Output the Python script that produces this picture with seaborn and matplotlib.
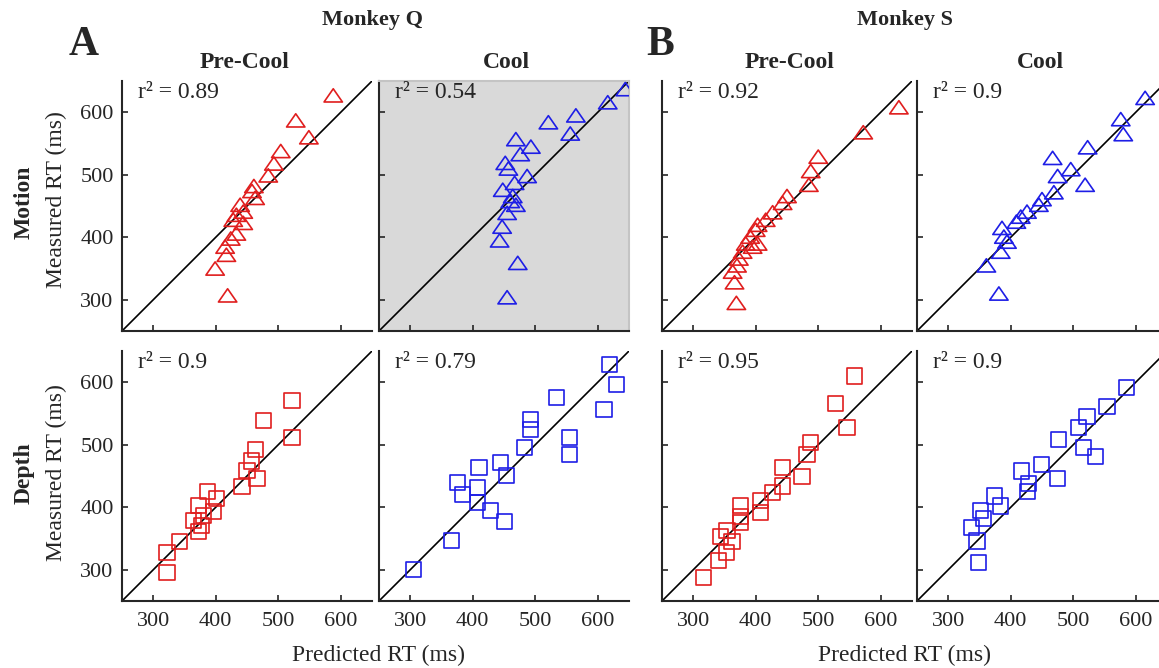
import numpy as np
import pandas as pd
import matplotlib.pyplot as plt
import seaborn as sns
from matplotlib.path import Path

# ---- data: predicted vs measured RT (ms) ----
q_motion_pre_pred = [588, 528, 549, 504, 493, 484, 461, 458, 463, 439, 444, 433, 444, 428, 433, 424, 415, 417, 399, 419]
q_motion_pre_meas = [627, 587, 560, 538, 518, 499, 482, 474, 463, 452, 441, 436, 423, 428, 406, 398, 385, 372, 350, 307]

q_motion_cool_pred = [644, 616, 565, 521, 556, 469, 493, 476, 452, 457, 487, 467, 448, 464, 460, 469, 455, 447, 443, 472, 455]
q_motion_cool_meas = [637, 616, 595, 584, 566, 557, 545, 533, 519, 510, 498, 487, 476, 466, 458, 452, 439, 417, 395, 359, 304]

s_motion_pre_pred = [629, 572, 500, 488, 485, 450, 443, 427, 416, 403, 400, 391, 403, 384, 395, 379, 373, 370, 363, 366, 369]
s_motion_pre_meas = [608, 568, 529, 506, 484, 466, 455, 440, 428, 420, 412, 401, 390, 390, 385, 377, 366, 355, 345, 328, 295]

s_motion_cool_pred = [615, 576, 580, 523, 467, 496, 475, 519, 469, 450, 445, 426, 416, 409, 386, 389, 394, 384, 361, 381]
s_motion_cool_meas = [623, 589, 565, 544, 527, 509, 498, 484, 472, 461, 452, 441, 433, 425, 415, 401, 393, 377, 355, 310]

q_depth_pre_pred = [522, 476, 522, 464, 457, 450, 466, 442, 387, 401, 372, 396, 380, 364, 377, 372, 342, 322, 322]
q_depth_pre_meas = [571, 539, 512, 493, 474, 459, 446, 433, 425, 414, 403, 393, 387, 379, 371, 361, 345, 327, 295]

q_depth_cool_pred = [619, 630, 534, 610, 492, 492, 555, 555, 483, 445, 454, 410, 375, 408, 384, 408, 428, 451, 366, 305]
q_depth_cool_meas = [629, 597, 576, 556, 541, 524, 511, 485, 496, 472, 451, 464, 440, 432, 420, 408, 395, 377, 347, 300]

s_depth_pre_pred = [558, 528, 546, 488, 482, 443, 474, 443, 427, 407, 407, 376, 376, 376, 354, 343, 362, 353, 340, 317]
s_depth_pre_meas = [610, 566, 527, 504, 484, 464, 449, 434, 424, 411, 391, 403, 375, 385, 363, 353, 345, 328, 315, 287]

s_depth_cool_pred = [585, 554, 522, 508, 476, 516, 536, 449, 417, 475, 429, 427, 374, 383, 352, 357, 337, 346, 348]
s_depth_cool_meas = [591, 561, 545, 528, 509, 496, 481, 468, 458, 446, 438, 425, 418, 402, 395, 382, 368, 346, 312]

r2_values = {
    ("Q", "Motion", "Pre-Cool"): "0.89", ("Q", "Motion", "Cool"): "0.54",
    ("S", "Motion", "Pre-Cool"): "0.92", ("S", "Motion", "Cool"): "0.9",
    ("Q", "Depth", "Pre-Cool"): "0.9", ("Q", "Depth", "Cool"): "0.79",
    ("S", "Depth", "Pre-Cool"): "0.95", ("S", "Depth", "Cool"): "0.9",
}

tasks = ["Motion", "Depth"]
monkeys = ["Q", "S"]
conds = ["Pre-Cool", "Cool"]
tick_vals = [300, 400, 500, 600]

series = {
    ("Q", "Motion", "Pre-Cool"): (q_motion_pre_pred, q_motion_pre_meas),
    ("Q", "Motion", "Cool"): (q_motion_cool_pred, q_motion_cool_meas),
    ("S", "Motion", "Pre-Cool"): (s_motion_pre_pred, s_motion_pre_meas),
    ("S", "Motion", "Cool"): (s_motion_cool_pred, s_motion_cool_meas),
    ("Q", "Depth", "Pre-Cool"): (q_depth_pre_pred, q_depth_pre_meas),
    ("Q", "Depth", "Cool"): (q_depth_cool_pred, q_depth_cool_meas),
    ("S", "Depth", "Pre-Cool"): (s_depth_pre_pred, s_depth_pre_meas),
    ("S", "Depth", "Cool"): (s_depth_cool_pred, s_depth_cool_meas),
}

rows = []
for (mk, task, cond), (px, my) in series.items():
    for a, b in zip(px, my):
        rows.append({"monkey": mk, "task": task, "cond": cond, "pred": a, "meas": b})
df = pd.DataFrame(rows)

# ---- style ----
sns.set_style("ticks")
plt.rcParams["font.family"] = ["Liberation Serif", "DejaVu Serif"]

W, H = 1159, 668
fig = plt.figure(figsize=(W / 100, H / 100), dpi=100)

def rect(left, top, w=250, h=250):
    return [left / W, 1 - (top + h) / H, w / W, h / H]

col_left = [122, 379, 662, 917]
row_top = [81, 351]

red = "#e01e1e"
blue = "#1e1ee6"
# flattened, closed triangle (MATLAB-like '^')
tri = Path([(-1, -0.72), (1, -0.72), (0, 0.72), (-1, -0.72)], closed=True)

for r, task in enumerate(tasks):
    for m, mk in enumerate(monkeys):
        for c, cond in enumerate(conds):
            col = m * 2 + c
            ax = fig.add_axes(rect(col_left[col], row_top[r]))
            sub = df[(df.monkey == mk) & (df.task == task) & (df.cond == cond)]
            color = red if cond == "Pre-Cool" else blue
            marker = tri if task == "Motion" else "s"
            size = 175 if task == "Motion" else 118
            sns.scatterplot(data=sub, x="pred", y="meas", ax=ax, marker=marker,
                            s=size, facecolor="none", edgecolor=color,
                            linewidth=1.2, zorder=3)
            ax.axline((0, 0), slope=1, color="black", lw=1.2, zorder=2)
            ax.set_xlim(250, 650)
            ax.set_ylim(250, 650)
            ax.set_xticks(tick_vals)
            ax.set_yticks(tick_vals)
            ax.set_xlabel("")
            ax.set_ylabel("")
            ax.tick_params(direction="in", length=4, width=1.2, labelsize=16)
            ax.tick_params(axis="x", pad=8)
            ax.tick_params(axis="y", pad=6)
            if r == 0:
                ax.set_xticklabels([])
            if col != 0:
                ax.set_yticklabels([])
            for sp in ["left", "bottom"]:
                ax.spines[sp].set_linewidth(1.5)
            if mk == "Q" and task == "Motion" and cond == "Cool":
                ax.set_facecolor("#d9d9d9")
                for sp in ["top", "right"]:
                    ax.spines[sp].set_color("#c4c4c4")
                    ax.spines[sp].set_linewidth(1.5)
            else:
                sns.despine(ax=ax)
            ax.text(0.065, 0.955, "r² = " + r2_values[(mk, task, cond)],
                    transform=ax.transAxes, fontsize=17, va="center", ha="left")

# ---- figure text ----
def ftext(x, y, s, **kw):
    fig.text(x / W, 1 - y / H, s, ha="center", va="center", **kw)

ftext(373, 20, "Monkey Q", fontsize=16, fontweight="bold")
ftext(905, 20, "Monkey S", fontsize=16, fontweight="bold")
ftext(84, 45, "A", fontsize=30, fontweight="bold")
ftext(660, 45, "B", fontsize=30, fontweight="bold")
ftext(245, 62, "Pre-Cool", fontsize=17, fontweight="bold")
ftext(506, 62, "Cool", fontsize=17, fontweight="bold")
ftext(790, 62, "Pre-Cool", fontsize=17, fontweight="bold")
ftext(1040, 62, "Cool", fontsize=17, fontweight="bold")
ftext(24, 202, "Motion", fontsize=17, fontweight="bold", rotation=90)
ftext(24, 473, "Depth", fontsize=17, fontweight="bold", rotation=90)
ftext(56, 200, "Measured RT (ms)", fontsize=17, rotation=90)
ftext(56, 473, "Measured RT (ms)", fontsize=17, rotation=90)
ftext(378, 655, "Predicted RT (ms)", fontsize=17)
ftext(905, 655, "Predicted RT (ms)", fontsize=17)

fig.savefig("out.png", dpi=100)
